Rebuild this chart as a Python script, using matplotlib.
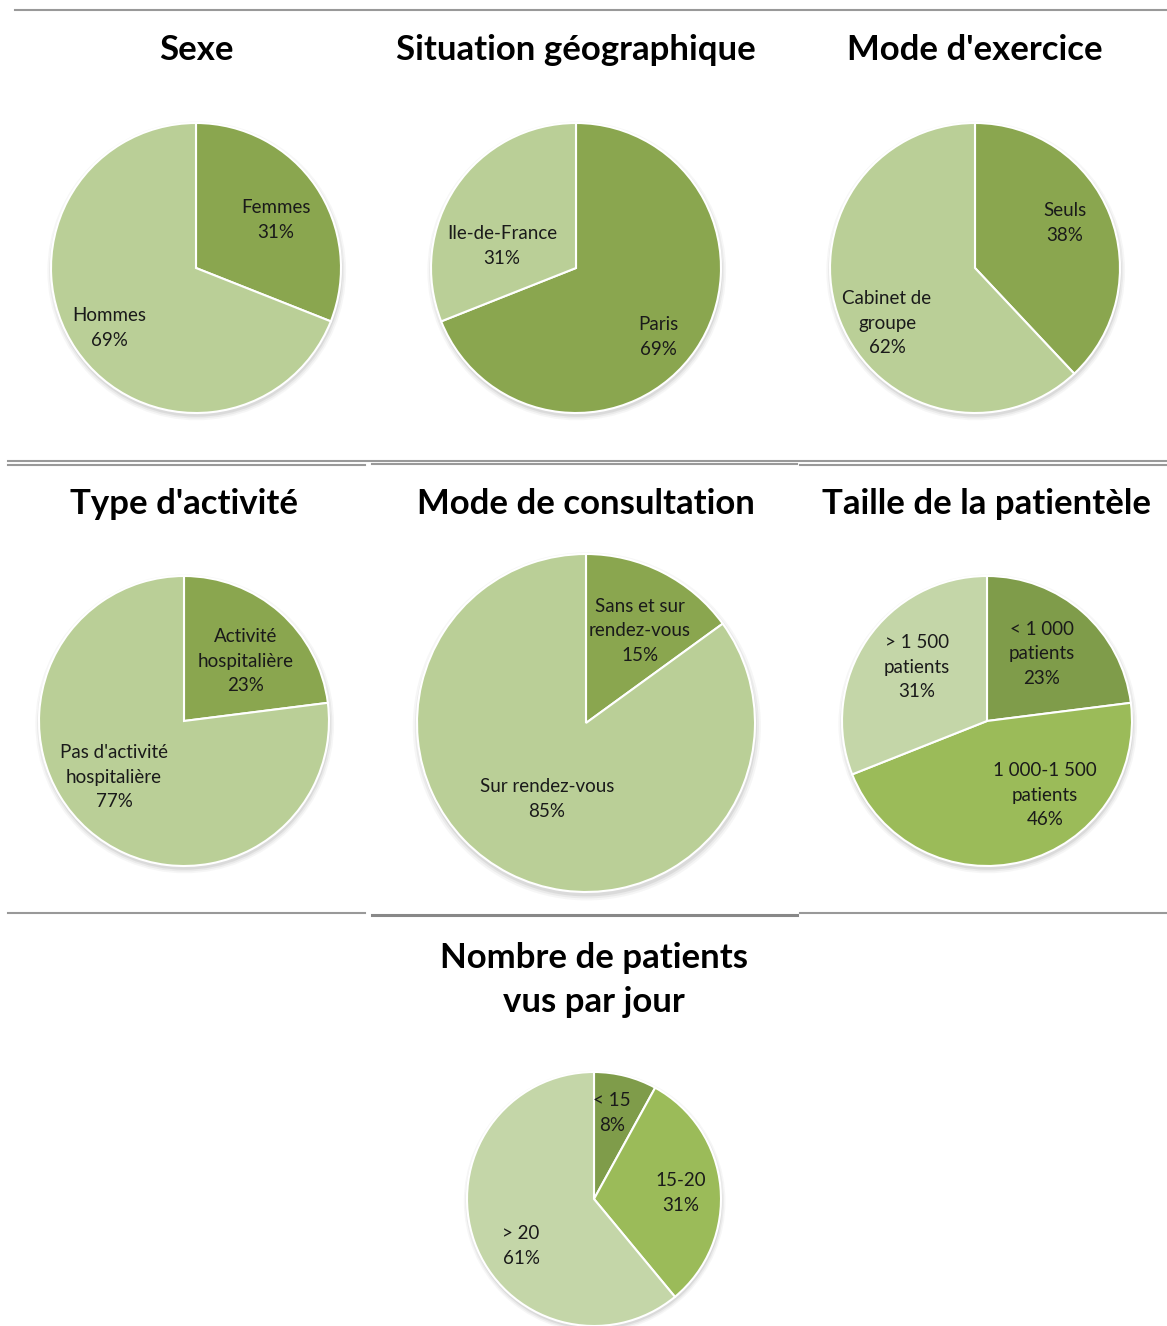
import numpy as np
import matplotlib
matplotlib.use("Agg")
import matplotlib.pyplot as plt
from matplotlib.patches import Circle
from matplotlib.lines import Line2D

plt.rcParams['font.family'] = ['Lato', 'DejaVu Sans']

W, H = 1167, 1326

# ---- data ----
titres = ["Sexe", "Situation géographique", "Mode d'exercice",
          "Type d'activité", "Mode de consultation", "Taille de la patientèle",
          "Nombre de patients\nvus par jour"]

sexe_lab = ["Femmes", "Hommes"]
sexe_val = [31, 69]
geo_lab = ["Paris", "Ile-de-France"]
geo_val = [69, 31]
exercice_lab = ["Seuls", "Cabinet de\ngroupe"]
exercice_val = [38, 62]
activite_lab = ["Activité\nhospitalière", "Pas d'activité\nhospitalière"]
activite_val = [23, 77]
consult_lab = ["Sans et sur\nrendez-vous", "Sur rendez-vous"]
consult_val = [15, 85]
taille_lab = ["< 1 000\npatients", "1 000-1 500\npatients", "> 1 500\npatients"]
taille_val = [23, 46, 31]
nombre_lab = ["< 15", "15-20", "> 20"]
nombre_val = [8, 31, 61]

# ---- colours ----
c_dark = "#8aa64f"
c_light = "#bacf97"
c3_dark = "#7f9c4a"
c3_mid = "#9bbb59"
c3_light = "#c4d6a8"

# ---- layout (pixels): centre x, centre y, radius, title y, label centres ----
pies = [
    (sexe_lab, sexe_val, [c_dark, c_light], (196, 268, 145), 50,
     [(276, 220), (109, 328)]),
    (geo_lab, geo_val, [c_dark, c_light], (576, 268, 145), 50,
     [(658, 337), (502, 246)]),
    (exercice_lab, exercice_val, [c_dark, c_light], (975, 268, 145), 50,
     [(1065, 223), (887, 323)]),
    (activite_lab, activite_val, [c_dark, c_light], (184, 721, 145), 504,
     [(246, 661), (114, 777)]),
    (consult_lab, consult_val, [c_dark, c_light], (586, 723, 169), 504,
     [(640, 631), (547, 799)]),
    (taille_lab, taille_val, [c3_dark, c3_mid, c3_light], (987, 721, 145), 504,
     [(1042, 654), (1045, 795), (917, 667)]),
    (nombre_lab, nombre_val, [c3_dark, c3_mid, c3_light], (594, 1199, 127), 980,
     [(612, 1113), (681, 1193), (521, 1246)]),
]

fig = plt.figure(figsize=(W / 100, H / 100), dpi=100)

for (labs, vals, cols, (cx, cy, r), ty, lpos), titre in zip(pies, titres):
    m = 1.12
    R = r * m
    ax = fig.add_axes([(cx - R) / W, 1 - (cy + R) / H, 2 * R / W, 2 * R / H])
    # soft shadow
    for k, a in enumerate([0.05, 0.07, 0.10]):
        ax.add_patch(Circle((0.005, -0.02), 1.03 - 0.012 * k, color='#555555',
                            alpha=a, lw=0, zorder=0))
    ax.pie(vals, colors=cols, startangle=90, counterclock=False, radius=1,
           wedgeprops=dict(edgecolor='white', linewidth=1.5))
    ax.set_xlim(-m, m)
    ax.set_ylim(-m, m)
    ax.set_aspect('equal')
    ax.axis('off')
    for lab, v, (px, py) in zip(labs, vals, lpos):
        ax.text((px - cx) / r, (cy - py) / r, "%s\n%d%%" % (lab, v),
                ha='center', va='center', fontsize=13.5, color='#1a1a1a',
                linespacing=1.55)
    fig.text(cx / W, 1 - ty / H, titre, ha='center', va='center',
             fontsize=25, fontweight='bold', linespacing=1.45)

# separator lines
def hline(x0, x1, y, lw=1.5, col='#999999'):
    fig.add_artist(Line2D([x0 / W, x1 / W], [1 - y / H, 1 - y / H],
                          transform=fig.transFigure, color=col, lw=lw))

hline(15, 1167, 10)
hline(8, 1167, 461)
hline(8, 365, 465)
hline(372, 797, 464)
hline(800, 1167, 465)
hline(8, 365, 913)
hline(372, 797, 915, lw=2.2, col='#888888')
hline(800, 1167, 913)

fig.savefig("out.png", dpi=100, facecolor='white')
